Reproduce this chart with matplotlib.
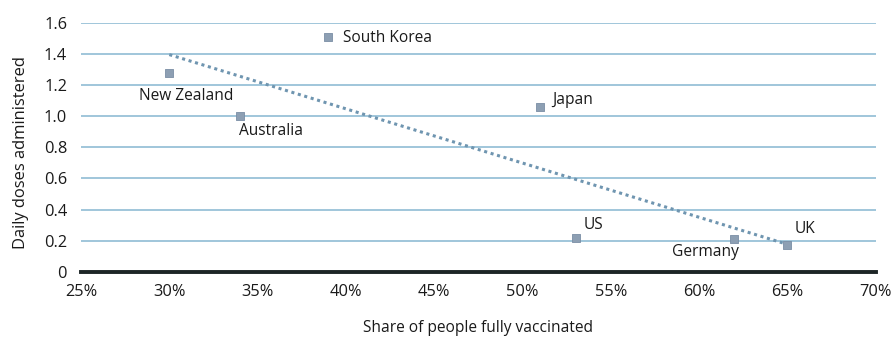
import numpy as np
import matplotlib
matplotlib.use('Agg')
import matplotlib.pyplot as plt
from matplotlib.ticker import FuncFormatter

countries = ['New Zealand', 'Australia', 'South Korea', 'Japan', 'US', 'Germany', 'UK']
vaccinated = [30, 34, 39, 51, 53, 62, 65]
daily_doses = [1.28, 1.00, 1.51, 1.06, 0.22, 0.21, 0.17]
# label offsets in pixels and alignment
offsets = [(17, -23, 'center'), (-1, -15, 'left'), (15, -1, 'left'), (12, 7, 'left'),
           (8, 13, 'left'), (-29, -13, 'center'), (7, 16, 'left')]

plt.rcParams['font.family'] = ['Open Sans', 'DejaVu Sans']

fig = plt.figure(figsize=(8.96, 3.37), dpi=100)
ax = fig.add_axes([0.0904, 0.193, 0.887, 0.7397])

ax.set_xlim(25, 70)
ax.set_ylim(0, 1.6)
ax.set_xticks(np.arange(25, 71, 5))
ax.set_yticks(np.arange(0, 1.61, 0.2))
ax.xaxis.set_major_formatter(FuncFormatter(lambda v, p: '%d%%' % v))
ax.yaxis.set_major_formatter(FuncFormatter(lambda v, p: '0' if v == 0 else '%.1f' % v))

for y in np.arange(0.2, 1.61, 0.2):
    ax.axhline(y, color='#86b6d1', lw=1.1, zorder=1)

for s in ['top', 'right', 'left']:
    ax.spines[s].set_visible(False)
ax.spines['bottom'].set_color('#1c2526')
ax.spines['bottom'].set_linewidth(2.8)
ax.tick_params(length=0, labelsize=11.8, colors='#1a1a1a')
ax.tick_params(axis='y', pad=10)
ax.tick_params(axis='x', pad=9)

# least squares trend line
k, b = np.polyfit(vaccinated, daily_doses, 1)
xs = np.array([min(vaccinated), max(vaccinated)])
ax.plot(xs, k * xs + b, linestyle=(0, (1, 1.2)), color='#6f95b0', lw=2.2, zorder=2)

ax.scatter(vaccinated, daily_doses, marker='s', s=27, color='#8d9fb3',
           edgecolor='#7a8ea5', lw=0.6, zorder=3, clip_on=False)

for name, x, y, (dx, dy, ha) in zip(countries, vaccinated, daily_doses, offsets):
    ax.annotate(name, (x, y), xytext=(dx, dy), textcoords='offset pixels',
                ha=ha, va='center', fontsize=11.2, color='#1a1a1a')

ax.set_xlabel('Share of people fully vaccinated', fontsize=11.2, color='#1a1a1a', labelpad=14)
ax.set_ylabel('Daily doses administered', fontsize=11.9, color='#1a1a1a', labelpad=8)
ax.yaxis.set_label_coords(-0.066, 0.477)

fig.savefig('out.png', dpi=100)
